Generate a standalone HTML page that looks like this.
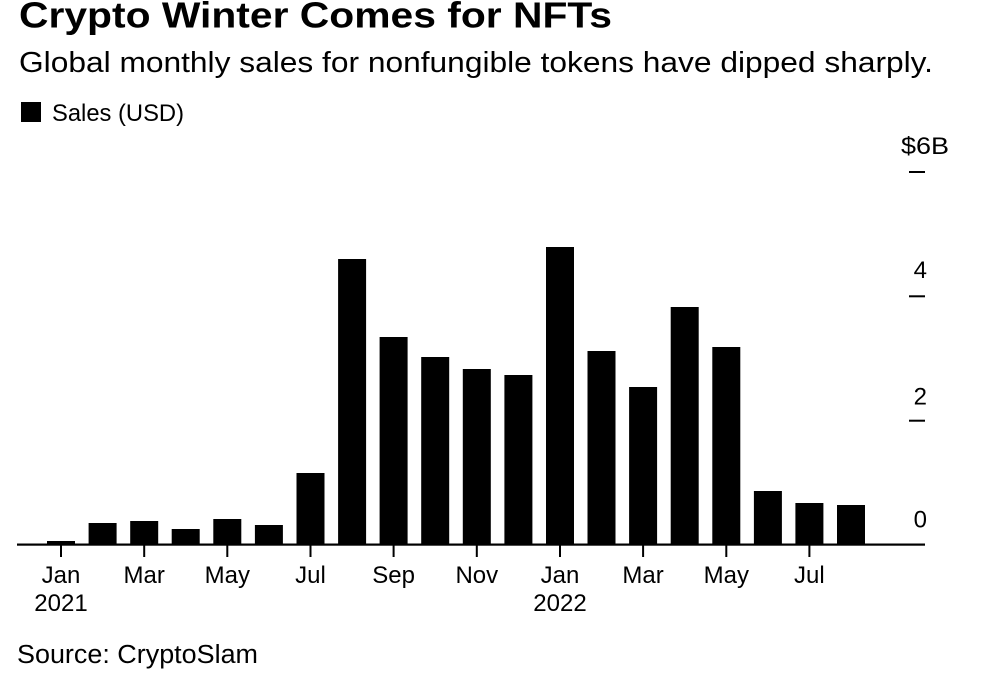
<!DOCTYPE html>
<html>
<head>
<meta charset="utf-8">
<style>
  html, body { margin: 0; padding: 0; background: #ffffff; }
  body { width: 984px; height: 688px; overflow: hidden; }
  svg { display: block; font-family: "Liberation Sans", Arial, sans-serif; }
  text { fill: #000; }
</style>
</head>
<body>
<svg width="984" height="688" viewBox="0 0 984 688" xmlns="http://www.w3.org/2000/svg">
  <rect x="0" y="0" width="984" height="688" fill="#fff"/>

  <!-- Title & subtitle -->
  <text x="19" y="27.5" font-size="36" font-weight="bold" textLength="593" lengthAdjust="spacingAndGlyphs">Crypto Winter Comes for NFTs</text>
  <text x="19" y="72" font-size="28.5" textLength="914" lengthAdjust="spacingAndGlyphs">Global monthly sales for nonfungible tokens have dipped sharply.</text>

  <!-- Legend -->
  <rect x="21" y="102" width="20" height="20" fill="#000"/>
  <text x="52" y="121" font-size="24" textLength="132" lengthAdjust="spacingAndGlyphs">Sales (USD)</text>

  <!-- Bars -->
  <g fill="#000">
    <rect x="47" y="541" width="28" height="4"/>
    <rect x="88.6" y="523" width="28" height="22"/>
    <rect x="130.2" y="521" width="28" height="24"/>
    <rect x="171.7" y="529" width="28" height="16"/>
    <rect x="213.3" y="519" width="28" height="26"/>
    <rect x="254.9" y="525" width="28" height="20"/>
    <rect x="296.5" y="473" width="28" height="72"/>
    <rect x="338.1" y="259" width="28" height="286"/>
    <rect x="379.6" y="337" width="28" height="208"/>
    <rect x="421.2" y="357" width="28" height="188"/>
    <rect x="462.8" y="369" width="28" height="176"/>
    <rect x="504.4" y="375" width="28" height="170"/>
    <rect x="546" y="247" width="28" height="298"/>
    <rect x="587.5" y="351" width="28" height="194"/>
    <rect x="629.1" y="387" width="28" height="158"/>
    <rect x="670.7" y="307" width="28" height="238"/>
    <rect x="712.3" y="347" width="28" height="198"/>
    <rect x="753.9" y="491" width="28" height="54"/>
    <rect x="795.4" y="503" width="28" height="42"/>
    <rect x="837" y="505" width="28" height="40"/>
  </g>

  <!-- Axis baseline -->
  <rect x="17" y="543.5" width="908" height="2.2" fill="#000"/>

  <!-- X ticks -->
  <g fill="#000">
    <rect x="60" y="545" width="2" height="12"/>
    <rect x="143.2" y="545" width="2" height="12"/>
    <rect x="226.3" y="545" width="2" height="12"/>
    <rect x="309.5" y="545" width="2" height="12"/>
    <rect x="392.6" y="545" width="2" height="12"/>
    <rect x="475.8" y="545" width="2" height="12"/>
    <rect x="559" y="545" width="2" height="12"/>
    <rect x="642.1" y="545" width="2" height="12"/>
    <rect x="725.3" y="545" width="2" height="12"/>
    <rect x="808.4" y="545" width="2" height="12"/>
  </g>

  <!-- X labels -->
  <g font-size="24" text-anchor="middle">
    <text x="61" y="583">Jan</text>
    <text x="61" y="611">2021</text>
    <text x="144.2" y="583">Mar</text>
    <text x="227.3" y="583">May</text>
    <text x="310.5" y="583">Jul</text>
    <text x="393.6" y="583">Sep</text>
    <text x="476.8" y="583">Nov</text>
    <text x="560" y="583">Jan</text>
    <text x="560" y="611">2022</text>
    <text x="643.1" y="583">Mar</text>
    <text x="726.3" y="583">May</text>
    <text x="809.4" y="583">Jul</text>
  </g>

  <!-- Y ticks (right) -->
  <g fill="#000">
    <rect x="909" y="171" width="16" height="2"/>
    <rect x="909" y="295.3" width="16" height="2"/>
    <rect x="909" y="419.7" width="16" height="2"/>
  </g>

  <!-- Y labels -->
  <g font-size="24">
    <text x="901" y="154" textLength="48" lengthAdjust="spacingAndGlyphs">$6B</text>
    <text x="927" y="278" text-anchor="end">4</text>
    <text x="927" y="404.5" text-anchor="end">2</text>
    <text x="927" y="527.5" text-anchor="end">0</text>
  </g>

  <!-- Source -->
  <text x="17" y="663" font-size="25.5" textLength="241" lengthAdjust="spacingAndGlyphs">Source: CryptoSlam</text>
</svg>
</body>
</html>
